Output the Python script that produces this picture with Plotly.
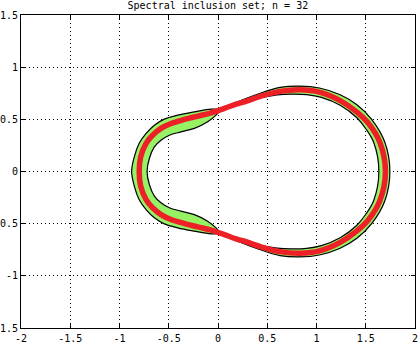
import plotly.graph_objects as go

# ---- tick labels ----
X_TICKS = [-2, -1.5, -1, -0.5, 0, 0.5, 1, 1.5, 2]
X_LABELS = ["-2", "-1.5", "-1", "-0.5", "0", "0.5", "1", "1.5", "2"]
Y_TICKS = [-1.5, -1, -0.5, 0, 0.5, 1, 1.5]
Y_LABELS = ["-1.5", "-1", "-0.5", "0", "0.5", "1", "1.5"]

TITLE = "Spectral inclusion set; n = 32"

# ---- left crescent of the inclusion set (pinch -> left end -> pinch) ----
left_outer_x = [0.03, -0.07, -0.24, -0.41, -0.545, -0.646, -0.73, -0.80, -0.85, -0.877,
                -0.85, -0.80, -0.73, -0.646, -0.545, -0.41, -0.24, -0.07, 0.03]
left_outer_y = [0.595, 0.598, 0.572, 0.54, 0.502, 0.444, 0.365, 0.27, 0.14, 0.0,
                -0.14, -0.27, -0.365, -0.444, -0.502, -0.54, -0.572, -0.598, -0.595]
left_inner_x = [0.03, -0.02, -0.105, -0.24, -0.376, -0.494, -0.579, -0.646, -0.697, -0.72,
                -0.697, -0.646, -0.579, -0.494, -0.376, -0.24, -0.105, -0.02, 0.03]
left_inner_y = [0.595, 0.54, 0.476, 0.413, 0.38, 0.348, 0.30, 0.236, 0.125, 0.0,
                -0.125, -0.236, -0.30, -0.348, -0.38, -0.413, -0.476, -0.54, -0.595]

# ---- right crescent of the inclusion set (pinch -> right end -> pinch) ----
right_outer_x = [0.03, 0.2, 0.4, 0.63, 0.83, 1.03, 1.24, 1.41, 1.56, 1.694, 1.745,
                 1.694, 1.56, 1.41, 1.24, 1.03, 0.83, 0.63, 0.4, 0.2, 0.03]
right_outer_y = [0.595, 0.668, 0.74, 0.806, 0.819, 0.80, 0.735, 0.64, 0.50, 0.28, 0.0,
                 -0.28, -0.50, -0.64, -0.735, -0.80, -0.819, -0.806, -0.74, -0.668, -0.595]
right_inner_x = [0.03, 0.2, 0.4, 0.6, 0.75, 0.9, 1.05, 1.24, 1.41, 1.50, 1.582, 1.633,
                 1.582, 1.50, 1.41, 1.24, 1.05, 0.9, 0.75, 0.6, 0.4, 0.2, 0.03]
right_inner_y = [0.595, 0.645, 0.70, 0.735, 0.742, 0.737, 0.71, 0.635, 0.515, 0.41, 0.275, 0.0,
                 -0.275, -0.41, -0.515, -0.635, -0.71, -0.737, -0.742, -0.735, -0.70, -0.645, -0.595]

# ---- eigenvalue curve (red) ----
curve_x = [-0.80, -0.785, -0.73, -0.664, -0.579, -0.477, -0.341, -0.206, -0.071, 0.065, 0.183,
           0.29, 0.43, 0.63, 0.83, 1.03, 1.24, 1.41, 1.525, 1.643, 1.70,
           1.643, 1.525, 1.41, 1.24, 1.03, 0.83, 0.63, 0.43, 0.29, 0.183, 0.065, -0.071,
           -0.206, -0.341, -0.477, -0.579, -0.664, -0.73, -0.785, -0.80]
curve_y = [0.0, 0.14, 0.27, 0.348, 0.413, 0.46, 0.499, 0.531, 0.562, 0.605, 0.645,
           0.675, 0.72, 0.768, 0.783, 0.761, 0.68, 0.57, 0.465, 0.28, 0.0,
           -0.28, -0.465, -0.57, -0.68, -0.761, -0.783, -0.768, -0.72, -0.675, -0.645, -0.605, -0.562,
           -0.531, -0.499, -0.46, -0.413, -0.348, -0.27, -0.14, 0.0]

GREEN = "rgb(150,242,100)"
RED = "rgb(236,32,38)"
SM = 1.0

fig = go.Figure()

for ox, oy, ix, iy in [(left_outer_x, left_outer_y, left_inner_x, left_inner_y),
                       (right_outer_x, right_outer_y, right_inner_x, right_inner_y)]:
    px = list(ox) + list(reversed(ix))
    py = list(oy) + list(reversed(iy))
    fig.add_trace(go.Scatter(x=px, y=py, mode="lines", fill="toself", fillcolor=GREEN,
                             line=dict(width=0, color=GREEN, shape="spline", smoothing=SM),
                             hoverinfo="skip", showlegend=False))

for bx, by in [(left_outer_x, left_outer_y), (left_inner_x, left_inner_y),
               (right_outer_x, right_outer_y), (right_inner_x, right_inner_y)]:
    fig.add_trace(go.Scatter(x=bx, y=by, mode="lines",
                             line=dict(width=1.2, color="black", shape="spline", smoothing=SM),
                             hoverinfo="skip", showlegend=False))

fig.add_trace(go.Scatter(x=curve_x, y=curve_y, mode="lines",
                         line=dict(width=5.5, color=RED, shape="spline", smoothing=SM),
                         showlegend=False))

FONT = dict(family="DejaVu Sans Mono", size=10, color="black")
axis_common = dict(showgrid=True, gridcolor="black", gridwidth=1, griddash="1px,3px",
                   zeroline=False, showline=True, linecolor="black", linewidth=1,
                   mirror="ticks", ticks="inside", ticklen=4, tickcolor="black",
                   tickfont=FONT, layer="below traces", automargin=False)

fig.update_layout(
    width=419, height=344,
    margin=dict(l=21, r=4, t=15, b=16, autoexpand=False),
    paper_bgcolor="white", plot_bgcolor="white",
    title=dict(text=TITLE, font=FONT, x=0.52, xanchor="center",
               y=1 - 5 / 344, yref="container", yanchor="middle", automargin=False),
    xaxis=dict(range=[-2, 2], tickvals=X_TICKS, ticktext=X_LABELS, ticklabelstandoff=1, **axis_common),
    yaxis=dict(range=[-1.5, 1.5], tickvals=Y_TICKS, ticktext=Y_LABELS, **axis_common),
)

fig.write_html("out.html", config={"displayModeBar": False, "staticPlot": True},
               post_script="document.body.style.margin='0px';document.body.style.overflow='hidden';")
